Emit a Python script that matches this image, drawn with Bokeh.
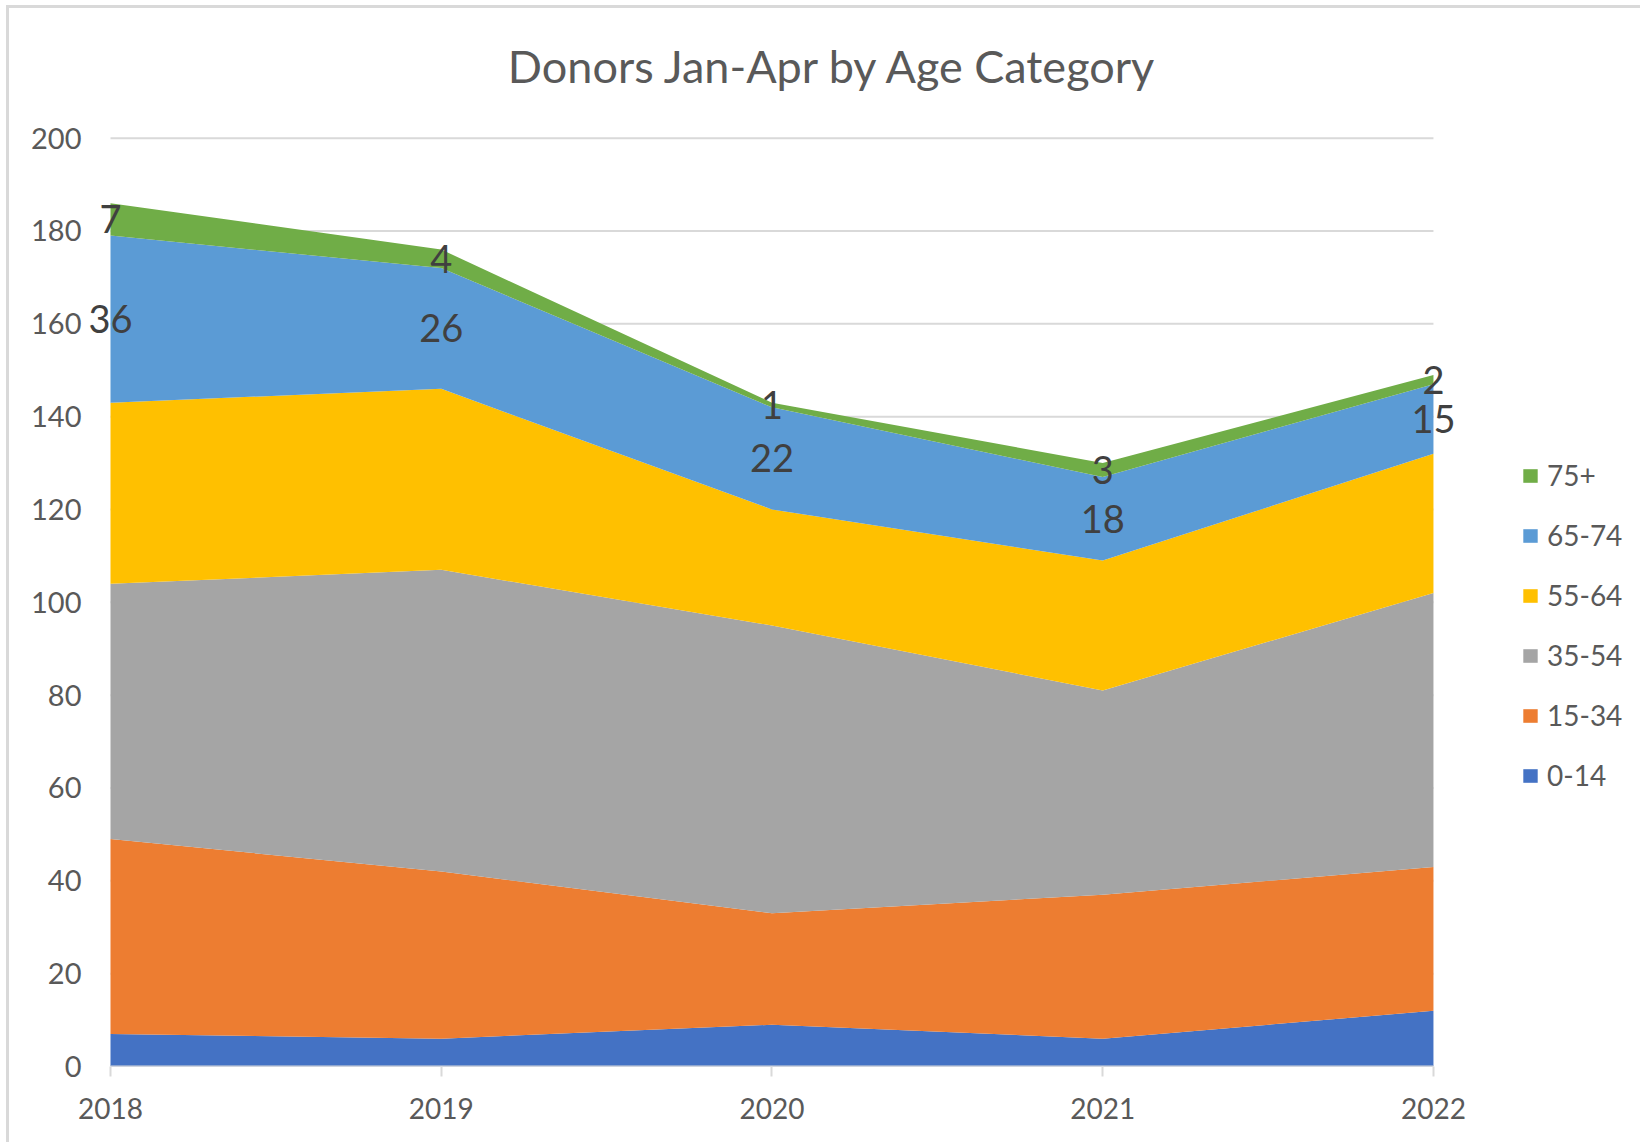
from bokeh.plotting import figure
from bokeh.models import Range1d, FixedTicker, Legend, LegendItem, ColumnDataSource
from bokeh.core.properties import value
from bokeh.embed import file_html
from bokeh.resources import INLINE
import numpy as np

years = [2018, 2019, 2020, 2021, 2022]
age_0_14 = [7, 6, 9, 6, 12]
age_15_34 = [42, 36, 24, 31, 31]
age_35_54 = [55, 65, 62, 44, 59]
age_55_64 = [39, 39, 25, 28, 30]
age_65_74 = [36, 26, 22, 18, 15]
age_75p = [7, 4, 1, 3, 2]

series_names = ["0-14", "15-34", "35-54", "55-64", "65-74", "75+"]
series_vals = [age_0_14, age_15_34, age_35_54, age_55_64, age_65_74, age_75p]
colors = ["#4472C4", "#ED7D31", "#A5A5A5", "#FFC000", "#5B9BD5", "#70AD47"]
y_ticks = [0, 20, 40, 60, 80, 100, 120, 140, 160, 180, 200]
labelled = ["65-74", "75+"]
title_text = "Donors Jan-Apr by Age Category"

FONT = "Lato"
GRID = "#d9d9d9"

data = {"year": years}
for n, v in zip(series_names, series_vals):
    data[n] = v
src = ColumnDataSource(data)

x0, x1 = min(years), max(years)
# frame extended beyond the category span to hold the labels, title and legend
Y_TOP = 227.93
p = figure(width=1634, height=1137, output_backend="svg", toolbar_location=None,
           title=None,
           x_range=Range1d(x0 - 0.0786, x1 + 0.626), y_range=Range1d(0, Y_TOP),
           min_border_left=75, min_border_right=3, min_border_top=0,
           min_border_bottom=79)
p.styles = {"margin-left": "6px", "margin-top": "5px",
            "border-left": "3px solid #d9d9d9", "border-top": "3px solid #d9d9d9"}
p.outline_line_color = None
p.background_fill_color = "white"
p.border_fill_color = "white"

# horizontal gridlines limited to the category span
p.segment(x0=[x0] * len(y_ticks), x1=[x1] * len(y_ticks), y0=y_ticks, y1=y_ticks,
          line_color=GRID, line_width=2)

renderers = p.varea_stack(stackers=series_names, x="year", source=src, color=colors)

# category axis line
p.segment(x0=[x0], x1=[x1], y0=[0], y1=[0], line_color=GRID, line_width=2)

# data labels for the top two series
cum = np.zeros(len(years))
for n, v in zip(series_names, series_vals):
    v = np.array(v, dtype=float)
    mid = cum + v / 2.0
    cum = cum + v
    if n in labelled:
        p.text(x=years, y=list(mid), text=[str(int(a)) for a in v],
               text_font=value(FONT), text_font_size="38px", text_color="#404040",
               text_align="center", text_baseline="middle")

# chart title (centred on the whole chart area)
p.text(x=[2020.186], y=[215.6], text=[title_text], text_font=value(FONT),
       text_font_size="45px", text_color="#595959", text_align="center",
       text_baseline="middle")

# axes
p.xaxis.ticker = FixedTicker(ticks=years)
p.xaxis.axis_line_color = None
p.xaxis.major_tick_line_color = GRID
p.xaxis.major_tick_line_width = 2
p.xaxis.major_tick_out = 10
p.xaxis.major_tick_in = 0
p.xaxis.minor_tick_line_color = None
p.xaxis.major_label_standoff = 21
p.xaxis.major_label_text_font = FONT
p.xaxis.major_label_text_font_size = "28px"
p.xaxis.major_label_text_color = "#595959"

p.yaxis.ticker = FixedTicker(ticks=y_ticks)
p.yaxis.axis_line_color = None
p.yaxis.major_tick_line_color = None
p.yaxis.major_tick_out = 0
p.yaxis.major_tick_in = 0
p.yaxis.minor_tick_line_color = None
p.yaxis.major_label_standoff = 3
p.yaxis.major_label_text_font = FONT
p.yaxis.major_label_text_font_size = "29px"
p.yaxis.major_label_text_color = "#595959"

p.xgrid.grid_line_color = None
p.ygrid.grid_line_color = None

items = [LegendItem(label=n, renderers=[r]) for n, r in zip(series_names, renderers)][::-1]
legend = Legend(items=items, location=(1437, 274), padding=0, margin=0,
                border_line_color=None, background_fill_alpha=0,
                glyph_width=18, glyph_height=17, label_height=34, label_standoff=8,
                spacing=26, label_text_font=FONT, label_text_font_size="28px",
                label_text_color="#595959")
p.add_layout(legend)

open("out.html", "w").write(file_html(p, INLINE))
